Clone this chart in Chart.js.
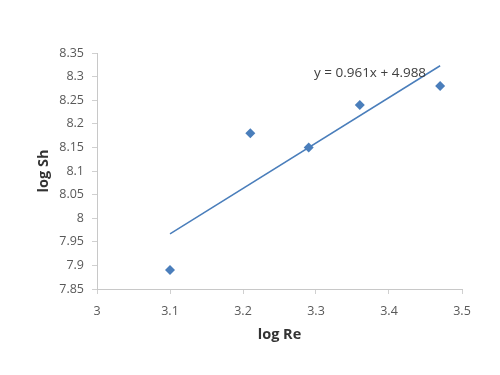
<!DOCTYPE html>
<html>
<head>
<meta charset="utf-8">
<script src="https://cdn.jsdelivr.net/npm/chart.js@4"></script>
<style>
  html, body { margin: 0; padding: 0; background: #fff; }
  #wrap { width: 500px; height: 375px; }
</style>
</head>
<body>
<div id="wrap"><canvas id="grafica" width="500" height="375"></canvas></div>
<script>
// datos
const logRe = [3.1, 3.21, 3.29, 3.36, 3.47];
const logSh = [7.89, 8.18, 8.15, 8.24, 8.28];
// linea de tendencia (extremos)
const trendX = [3.1, 3.47];
const trendY = [7.967, 8.323];
const ecuacion = 'y = 0.961x + 4.988';
const ecuacionPos = [3.374, 8.308];

const fuente = "'Open Sans', 'Noto Sans', sans-serif";
const azul = '#4a7ebb';

// etiqueta de la ecuacion
const etiquetaEcuacion = {
    id: 'etiquetaEcuacion',
    afterDatasetsDraw(chart) {
        const ctx = chart.ctx;
        const x = chart.scales.x.getPixelForValue(ecuacionPos[0]);
        const y = chart.scales.y.getPixelForValue(ecuacionPos[1]);
        ctx.save();
        ctx.font = '13.5px ' + fuente;
        ctx.fillStyle = '#404040';
        ctx.textAlign = 'center';
        ctx.textBaseline = 'middle';
        ctx.fillText(ecuacion, x, y);
        ctx.restore();
    }
};

new Chart(document.getElementById('grafica'), {
    type: 'scatter',
    data: {
        datasets: [{
            label: 'log Sh',
            data: logRe.map((v, i) => ({x: v, y: logSh[i]})),
            pointStyle: 'rectRot',
            pointRadius: 5,
            backgroundColor: azul,
            borderColor: azul,
            borderWidth: 0
        }, {
            label: 'tendencia',
            type: 'line',
            data: trendX.map((v, i) => ({x: v, y: trendY[i]})),
            borderColor: azul,
            borderWidth: 1.5,
            pointRadius: 0,
            fill: false
        }]
    },
    options: {
        responsive: false,
        animation: false,
        layout: { padding: { left: 35, top: 53, right: 38, bottom: 0 } },
        plugins: {
            legend: { display: false },
            tooltip: { enabled: false }
        },
        scales: {
            x: {
                type: 'linear',
                min: 3, max: 3.5,
                afterFit: s => { s.height = 86; },
                ticks: {
                    stepSize: 0.1,
                    padding: 10,
                    color: '#595959',
                    font: { family: fuente, size: 12.5 },
                    callback: v => Number(v.toFixed(2)).toString()
                },
                grid: { drawOnChartArea: false, drawTicks: true, tickLength: 5, color: '#d0d0d0' },
                border: { display: true, color: '#c8c8c8', width: 1 },
                title: {
                    display: true, text: 'log Re', color: '#333',
                    font: { family: fuente, size: 14.5, weight: 'bold' },
                    padding: { top: 0, bottom: 31 }
                }
            },
            y: {
                min: 7.85, max: 8.35,
                afterFit: s => { s.width = 62; },
                ticks: {
                    stepSize: 0.05,
                    padding: 8,
                    color: '#595959',
                    font: { family: fuente, size: 12.5 },
                    callback: v => Number(v.toFixed(2)).toString()
                },
                grid: { drawOnChartArea: false, drawTicks: true, tickLength: 5, color: '#d0d0d0' },
                border: { display: true, color: '#c8c8c8', width: 1 },
                title: {
                    display: true, text: 'log Sh', color: '#333',
                    font: { family: fuente, size: 14.5, weight: 'bold' },
                    padding: { top: 0, bottom: 0 }
                }
            }
        }
    },
    plugins: [etiquetaEcuacion]
});
</script>
</body>
</html>
